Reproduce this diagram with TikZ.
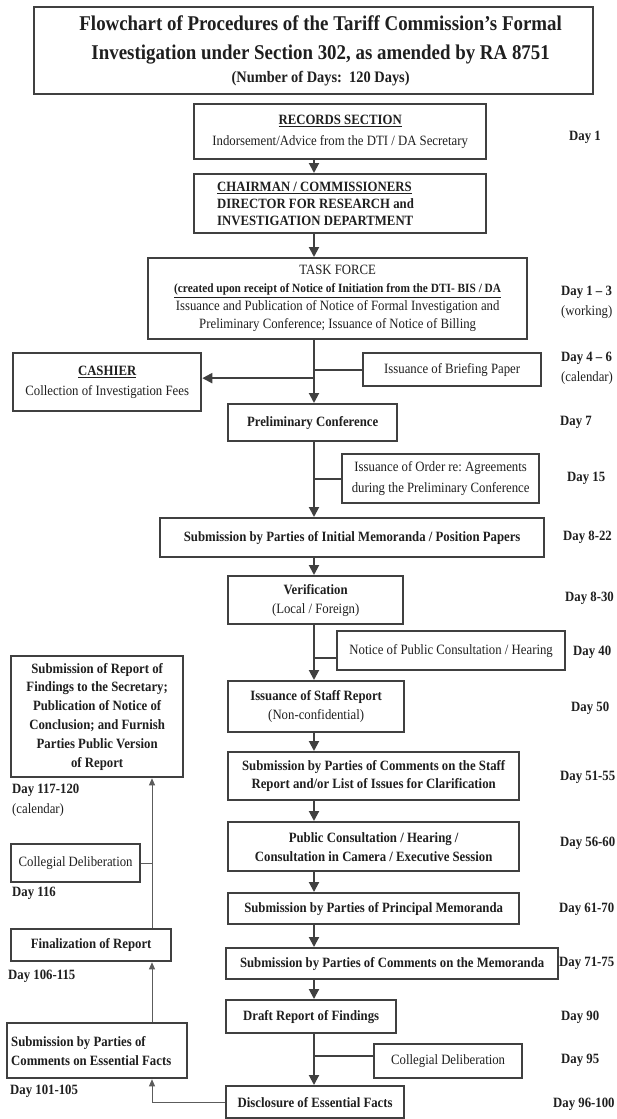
\documentclass[tikz,border=0pt]{standalone}
\usepackage{fontspec}
\setmainfont{Liberation Serif}[FakeStretch=0.9]
\usetikzlibrary{arrows.meta}
\definecolor{ink}{gray}{0.25}
\definecolor{txt}{gray}{0.12}
\newcommand\bodyfont[1]{\fontsize{14.2}{#1}\selectfont}
\tikzset{
  stage/.style 2 args={draw=ink, line width=2.3pt, anchor=north west, minimum width=#1,
    minimum height=#2, inner sep=0pt, align=center, text=txt, font=\bodyfont{19}},
  flow/.style={draw=ink, line width=2pt, -{Triangle[length=10pt,width=10pt]}},
  link/.style={draw=ink, line width=2pt},
  back/.style={draw=ink!85, line width=0.8pt, -{Triangle[length=7pt,width=6pt]}},
  day/.style={anchor=west, inner sep=0pt, align=left, text=txt, font=\bodyfont{20}\bfseries}
}
\begin{document}
\begin{tikzpicture}[x=1pt,y=-1pt]
  \useasboundingbox[fill=white] (0,0) rectangle (617,1119);
  \coordinate (sp) at (314,0);
  \coordinate (lsp) at (152,0);

  \node[stage={559}{87}, font=\fontsize{21}{29}\selectfont\bfseries] (title) at (33,6)
    {\hspace*{14pt}Flowchart of Procedures of the Tariff Commission’s Formal\\
     \hspace*{14pt}Investigation under Section 302, as amended by RA 8751\\[-6pt]
     {\fontsize{16}{20}\selectfont\hspace*{14pt}(Number of Days:\ \ 120 Days)}};

  \node[stage={292}{55}, font=\bodyfont{21}] (rec) at (193,103)
    {\textbf{\underline{RECORDS SECTION}}\\ Indorsement/Advice from the DTI / DA Secretary};
  \node[stage={292}{59}, font=\bodyfont{17}\bfseries, align=flush left, text width=246, inner xsep=23pt] (chair) at (193,173)
    {\underline{CHAIRMAN / COMMISSIONERS}\\ DIRECTOR FOR RESEARCH and\\ INVESTIGATION DEPARTMENT};
  \node[stage={379}{81}, font=\bodyfont{18}] (tf) at (147,257)
    {TASK FORCE\\
     {\fontsize{12.6}{18}\selectfont\bfseries\underline{(created upon receipt of Notice of Initiation from the DTI- BIS / DA}}\\
     Issuance and Publication of Notice of Formal Investigation and\\
     Preliminary Conference; Issuance of Notice of Billing};
  \node[stage={188}{58}, font=\bodyfont{20}] (cash) at (12,352)
    {\textbf{\underline{CASHIER}}\\ Collection of Investigation Fees};
  \node[stage={178}{33}] (brief) at (362,352) {Issuance of Briefing Paper};
  \node[stage={169}{37}, font=\bodyfont{19}\bfseries] (prelim) at (227,403) {Preliminary Conference};
  \node[stage={197}{49}, font=\bodyfont{21}] (order) at (341,453)
    {Issuance of Order re:\ Agreements\\ during the Preliminary Conference};
  \node[stage={384}{39}, font=\bodyfont{19}\bfseries] (init) at (159,517)
    {Submission by Parties of Initial Memoranda / Position Papers};
  \node[stage={175}{48}] (verif) at (227,575) {\textbf{Verification}\\ (Local / Foreign)};
  \node[stage={228}{39}] (notice) at (336,630) {Notice of Public Consultation / Hearing};
  \node[stage={176}{51}] (staff) at (227,680) {\textbf{Issuance of Staff Report}\\ (Non-confidential)};
  \node[stage={291}{48}, font=\bodyfont{18}\bfseries] (comm) at (227,751)
    {Submission by Parties of Comments on the Staff\\ Report and/or List of Issues for Clarification};
  \node[stage={291}{49}, font=\bodyfont{19}\bfseries] (pub) at (227,821)
    {Public Consultation / Hearing /\\ Consultation in Camera / Executive Session};
  \node[stage={291}{31}, font=\bodyfont{19}\bfseries] (princ) at (227,892)
    {Submission by Parties of Principal Memoranda};
  \node[stage={332}{31}, font=\bodyfont{19}\bfseries] (memo) at (225,947)
    {Submission by Parties of Comments on the Memoranda};
  \node[stage={170}{33}, font=\bodyfont{19}\bfseries] (draft) at (225,999) {Draft Report of Findings};
  \node[stage={148}{34}] (colR) at (373,1043) {Collegial Deliberation};
  \node[stage={178}{32}, font=\bodyfont{19}\bfseries] (disc) at (225,1085) {Disclosure of Essential Facts};

  \node[stage={172}{121}, font=\bodyfont{18.8}\bfseries] (big) at (10,655)
    {Submission of Report of\\ Findings to the Secretary;\\ Publication of Notice of\\
     Conclusion; and Furnish\\ Parties Public Version\\ of Report};
  \node[stage={129}{38}] (colL) at (10,843) {Collegial Deliberation};
  \node[stage={160}{32}, font=\bodyfont{19}\bfseries] (fin) at (10,928) {Finalization of Report};
  \node[stage={180}{55}, font=\bodyfont{19}\bfseries, align=flush left, text width=172, inner xsep=4pt] (ess) at (6,1022)
    {Submission by Parties of\\ Comments on Essential Facts};

  \node[day] (d1) at (569,137) {Day 1};
  \node[day] (d3) at (561,302) {Day 1 -- 3\\ \mdseries(working)};
  \node[day] (d6) at (561,368) {Day 4 -- 6\\ \mdseries(calendar)};
  \node[day] (d7) at (560,422) {Day 7};
  \node[day] (d15) at (567,478) {Day 15};
  \node[day] (d22) at (563,537) {Day 8-22};
  \node[day] (d30) at (565,598) {Day 8-30};
  \node[day] (d40) at (573,652) {Day 40};
  \node[day] (d50) at (571,708) {Day 50};
  \node[day] (d55) at (560,777) {Day 51-55};
  \node[day] (d60) at (560,843) {Day 56-60};
  \node[day] (d70) at (559,909) {Day 61-70};
  \node[day] (d75) at (559,963) {Day 71-75};
  \node[day] (d90) at (561,1017) {Day 90};
  \node[day] (d95) at (561,1060) {Day 95};
  \node[day] (d100) at (553,1104) {Day 96-100};
  \node[day] (d120) at (12,800) {Day 117-120\\ \mdseries(calendar)};
  \node[day] (d116) at (12,893) {Day 116};
  \node[day] (d115) at (8,976) {Day 106-115};
  \node[day] (d105) at (10,1091) {Day 101-105};

  \draw[flow] (rec.south -| sp) -- (chair.north -| sp);
  \draw[flow] (chair.south -| sp) -- (tf.north -| sp);
  \draw[flow] (tf.south -| sp) -- (prelim.north -| sp);
  \draw[link] (brief.west) -- (brief.west -| sp);
  \draw[flow] ([yshift=4pt]cash.east -| sp) -- ([yshift=4pt]cash.east);
  \draw[flow] (prelim.south -| sp) -- (init.north -| sp);
  \draw[link] (order.west) -- (order.west -| sp);
  \draw[flow] (init.south -| sp) -- (verif.north -| sp);
  \draw[flow] (verif.south -| sp) -- (staff.north -| sp);
  \draw[link] ([yshift=-7pt]notice.west) -- ([yshift=-7pt]notice.west -| sp);
  \draw[flow] (staff.south -| sp) -- (comm.north -| sp);
  \draw[flow] (comm.south -| sp) -- (pub.north -| sp);
  \draw[flow] (pub.south -| sp) -- (princ.north -| sp);
  \draw[flow] (princ.south -| sp) -- (memo.north -| sp);
  \draw[flow] (memo.south -| sp) -- (draft.north -| sp);
  \draw[flow] (draft.south -| sp) -- (disc.north -| sp);
  \draw[link] ([yshift=5pt]colR.west) -- ([yshift=5pt]colR.west -| sp);

  \draw[back] (disc.west) -- (disc.west -| lsp) -- (ess.south -| lsp);
  \draw[back] (ess.north -| lsp) -- (fin.south -| lsp);
  \draw[back] (fin.north -| lsp) -- (big.south -| lsp);
  \draw[draw=ink!85, line width=0.8pt] (colL.east) -- (colL.east -| lsp);
\end{tikzpicture}
\end{document}
